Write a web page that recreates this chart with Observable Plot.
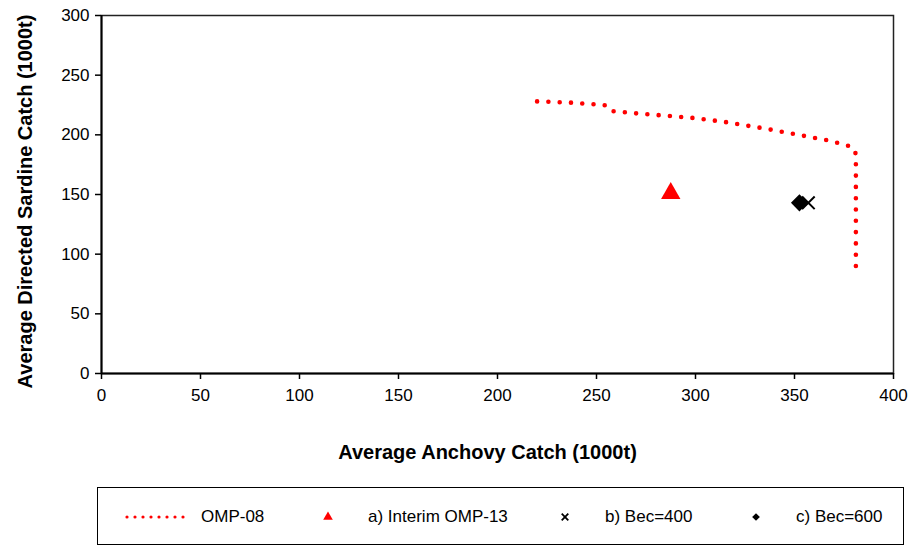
<!DOCTYPE html>
<html>
<head>
<meta charset="utf-8">
<script src="https://cdn.jsdelivr.net/npm/d3@7"></script>
<script src="https://cdn.jsdelivr.net/npm/@observablehq/plot@0.6"></script>
<style>
  html, body { margin: 0; padding: 0; background: #fff; }
  #wrap { position: relative; width: 914px; height: 548px; font-family: "Liberation Sans", Arial, sans-serif; color: #000; }
  #legend { position: absolute; left: 97px; top: 487px; width: 807px; height: 58px; border: 1px solid #000; box-sizing: border-box; }
  .item { position: absolute; top: 0; height: 58px; line-height: 58px; font-size: 17px; white-space: nowrap; }
  .sym { position: absolute; top: 0; }
</style>
</head>
<body>
<div id="wrap"></div>
<script>
const xTitle = "Average Anchovy Catch (1000t)";
const yTitle = "Average Directed Sardine Catch (1000t)";
const xTicks = [0, 50, 100, 150, 200, 250, 300, 350, 400];
const yTicks = [0, 50, 100, 150, 200, 250, 300];

// OMP-08 trade-off curve (anchovy, sardine)
const omp08Anchovy = [220, 237, 254, 257, 270, 285, 300, 314, 325, 336, 352, 368, 379, 381, 381, 381];
const omp08Sardine = [228, 227, 225, 220, 218, 216, 214, 211, 208, 205, 200, 195, 190, 184, 140, 89];

const seriesNames = ["OMP-08", "a) Interim OMP-13", "b) Bec=400", "c) Bec=600"];
const interimAnchovy = [287.5];
const interimSardine = [151];
const bec400Anchovy = [357];
const bec400Sardine = [143];
const bec600Anchovy = [352.5];
const bec600Sardine = [143];

const curve = omp08Anchovy.map((a, i) => ({x: a, y: omp08Sardine[i]}));
const interim = interimAnchovy.map((a, i) => ({x: a, y: interimSardine[i]}));
const b400 = bec400Anchovy.map((a, i) => ({x: a, y: bec400Sardine[i]}));
const b600 = bec600Anchovy.map((a, i) => ({x: a, y: bec600Sardine[i]}));

const chart = Plot.plot({
  width: 914,
  height: 480,
  marginLeft: 101,
  marginRight: 21,
  marginTop: 15,
  marginBottom: 107,
  style: {fontFamily: "'Liberation Sans', Arial, sans-serif", color: "#000", background: "#fff", overflow: "visible"},
  x: {domain: [0, 400]},
  y: {domain: [0, 300]},
  marks: [
    Plot.frame({stroke: "#222", strokeWidth: 1.5}),
    Plot.axisX({ticks: xTicks, tickSize: 6, tickPadding: 9, fontSize: 17, label: null, tickFormat: d => String(d), strokeWidth: 1.5}),
    Plot.axisY({ticks: yTicks, tickSize: 6, tickPadding: 6, fontSize: 17, label: null, tickFormat: d => String(d), strokeWidth: 1.5}),
    Plot.ruleX([0], {stroke: "#000", strokeWidth: 2}),
    Plot.ruleY([0], {stroke: "#000", strokeWidth: 2}),
    Plot.line(curve, {x: "x", y: "y", stroke: "#ff0000", strokeWidth: 4.6, strokeDasharray: "0,11.3", strokeLinecap: "round"}),
    Plot.dot(interim, {x: "x", y: "y", symbol: "triangle", r: 7.2, fill: "#ff0000"}),
    Plot.dot(b400, {x: "x", y: "y", symbol: "times", r: 5.8, stroke: "#000", strokeWidth: 2}),
    Plot.dot(b600, {x: "x", y: "y", symbol: "square", r: 6.8, fill: "#000", rotate: 45}),
    Plot.text([xTitle], {frameAnchor: "bottom", dy: 85, dx: -10, fontSize: 20, fontWeight: "bold", fill: "#000", textAnchor: "middle"}),
    Plot.text([yTitle], {frameAnchor: "left", dx: -76, dy: 7, rotate: -90, fontSize: 20, fontWeight: "bold", fill: "#000", textAnchor: "middle"})
  ]
});
const wrap = document.getElementById("wrap");
chart.style.position = "absolute";
chart.style.left = "0";
chart.style.top = "0";
wrap.appendChild(chart);

// Legend
const legend = document.createElement("div");
legend.id = "legend";
wrap.appendChild(legend);
const L = 97, cy = 29;
function addSvg(cx, w, draw) {
  const s = d3.create("svg").attr("class", "sym").attr("width", w).attr("height", 58)
    .style("left", (cx - L - w / 2) + "px");
  draw(s, w / 2, cy);
  legend.appendChild(s.node());
}
function addText(x, t) {
  const d = document.createElement("div");
  d.className = "item";
  d.style.left = (x - L) + "px";
  d.textContent = t;
  legend.appendChild(d);
}
addSvg(158, 80, (s, c, y) => s.append("line").attr("x1", c - 32).attr("x2", c + 32).attr("y1", y).attr("y2", y)
  .attr("stroke", "#ff0000").attr("stroke-width", 3.2).attr("stroke-dasharray", "0,8").attr("stroke-linecap", "round"));
addText(200, seriesNames[0]);
addSvg(327, 20, (s, c, y) => s.append("path").attr("d", d3.symbol(d3.symbolTriangle, 40)()).attr("transform", `translate(${c},${y})`).attr("fill", "#ff0000"));
addText(367, seriesNames[1]);
addSvg(564, 20, (s, c, y) => s.append("path").attr("d", d3.symbol(d3.symbolTimes, 30)()).attr("transform", `translate(${c},${y})`).attr("stroke", "#000").attr("stroke-width", 1.8).attr("fill", "none"));
addText(604, seriesNames[2]);
addSvg(755, 20, (s, c, y) => s.append("path").attr("d", d3.symbol(d3.symbolSquare, 30)()).attr("transform", `translate(${c},${y}) rotate(45)`).attr("fill", "#000"));
addText(795, seriesNames[3]);
</script>
</body>
</html>
